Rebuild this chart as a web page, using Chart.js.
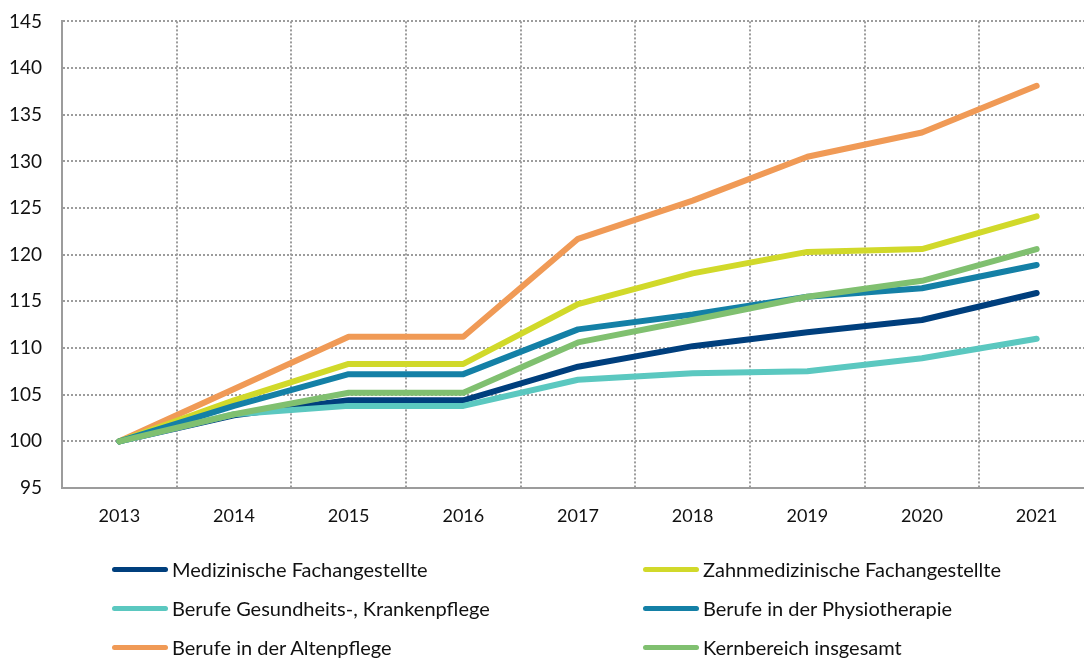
<!DOCTYPE html>
<html><head><meta charset="utf-8">
<script src="https://cdn.jsdelivr.net/npm/chart.js@4/dist/chart.umd.min.js"></script>
<style>
html,body{margin:0;padding:0;background:#fff;overflow:hidden;width:1084px;height:659px;}
#wrap{position:absolute;left:0;top:-10px;width:1095px;height:550px;}
#legend{position:absolute;left:0;top:0;width:1084px;height:659px;pointer-events:none;font-family:Lato,sans-serif;font-size:20px;color:#111;}
.item{position:absolute;display:flex;align-items:center;height:24px;}
.sw{width:56px;height:5px;border-radius:3px;margin-right:4px;}
</style></head><body>
<div id="wrap"><canvas id="c" width="1095" height="550"></canvas></div>
<div id="legend"></div>
<script>
const categories = ['2013','2014','2015','2016','2017','2018','2019','2020','2021'];
const yTicks = [95,100,105,110,115,120,125,130,135,140,145];
const seriesNames = ['Medizinische Fachangestellte','Zahnmedizinische Fachangestellte','Berufe Gesundheits-, Krankenpflege','Berufe in der Physiotherapie','Berufe in der Altenpflege','Kernbereich insgesamt'];
const medizinische = [100,102.8,104.4,104.4,108.0,110.2,111.7,113.0,115.9];
const zahnmedizinische = [100,104.4,108.3,108.3,114.7,118.0,120.3,120.6,124.1];
const krankenpflege = [100,102.9,103.8,103.8,106.6,107.3,107.5,108.9,111.0];
const physiotherapie = [100,103.8,107.2,107.2,112.0,113.6,115.5,116.4,118.9];
const altenpflege = [100,105.6,111.2,111.2,121.7,125.8,130.5,133.1,138.1];
const kernbereich = [100,102.9,105.2,105.2,110.6,113.0,115.5,117.2,120.6];
const colors = ['#003f7d','#d1d92a','#5bc8c0','#1480a6','#f09a56','#80c070'];
const orders = [4,2,3,1,5,0];
const values = [medizinische,zahnmedizinische,krankenpflege,physiotherapie,altenpflege,kernbereich];

const gridColor = '#9c9c9c';
const chart = new Chart(document.getElementById('c'), {
  type:'line',
  data:{labels:categories, datasets: values.map((v,i)=>({label:seriesNames[i],data:v,borderColor:colors[i],backgroundColor:colors[i],borderWidth:6,pointRadius:0,tension:0,order:orders[i],borderCapStyle:'round',borderJoinStyle:'round'}))},
  options:{
    responsive:false,animation:false,
    layout:{padding:{top:12,right:1,left:0,bottom:0}},
    plugins:{legend:{display:false},tooltip:{enabled:false}},
    scales:{
      x:{offset:true,
        grid:{offset:true,color:gridColor,lineWidth:2,drawTicks:false},
        border:{display:true,color:gridColor,width:2,dash:[2,2]},
        ticks:{padding:17,color:'#111',font:{family:'Lato',size:18}},
        afterFit:s=>{s.height=52;}
      },
      y:{min:95,max:145,
        afterBuildTicks:s=>{s.ticks=yTicks.map(v=>({value:v}));},
        grid:{color:gridColor,lineWidth:2,drawTicks:false},
        border:{display:true,color:gridColor,width:2,dash:[2,2]},
        ticks:{padding:20,color:'#111',font:{family:'Lato',size:19}},
        afterFit:s=>{s.width=62;}
      }
    }
  }
});

// legend built from datasets
const pos = [[112,557],[643,557],[112,596],[643,596],[112,635],[643,635]];
const lg = document.getElementById('legend');
chart.data.datasets.forEach((d,i)=>{
  const el=document.createElement('div');el.className='item';
  el.style.left=pos[i][0]+'px';el.style.top=pos[i][1]+'px';
  el.innerHTML='<div class="sw" style="background:'+d.borderColor+'"></div><span>'+d.label+'</span>';
  lg.appendChild(el);
});
</script>
</body></html>
